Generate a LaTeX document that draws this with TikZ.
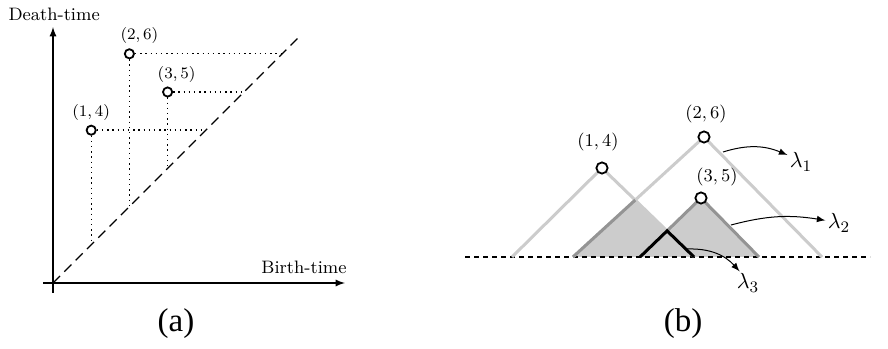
\documentclass[tikz,border=0pt]{standalone}
\usepackage{fontspec}
\newfontfamily\capfont{Liberation Serif}
\usetikzlibrary{arrows,positioning}
\definecolor{tentlight}{gray}{0.80}
\definecolor{tentdark}{gray}{0.58}
\definecolor{tentfill}{gray}{0.80}

\begin{document}
\begin{tikzpicture}[x=0.5pt, y=0.5pt,
    dot/.style={circle, draw, line width=0.9pt, fill=white, inner sep=0pt, minimum size=4.6pt},
    bigdot/.style={dot, minimum size=5.6pt},
    ptlabel/.style={font=\fontsize{8}{9}\selectfont, inner sep=1pt},
    bglabel/.style={font=\fontsize{9.5}{11}\selectfont, inner sep=1pt},
    lamlabel/.style={font=\fontsize{11}{13}\selectfont, inner sep=1pt},
    axlabel/.style={font=\fontsize{9}{11}\selectfont, inner sep=0pt},
    dots/.style={line width=0.7pt, dash pattern=on 0.7pt off 1.9pt},
    tent/.style={line width=1.5pt, tentlight},
    tentedge/.style={line width=1.5pt, tentdark},
    capt/.style={font=\capfont\fontsize{16.5}{19}\selectfont, inner sep=0pt}]
    \useasboundingbox (0,0) rectangle (888,348);

    % (a) persistence diagram
    \begin{scope}[xshift=26.5pt, yshift=32.5pt, x=19.1pt, y=19.1pt]
        \draw[-latex, line width=0.6pt] (-0.26,0) -- (7.64,0);
        \draw[-latex, line width=0.6pt] (0,-0.26) -- (0,6.7);
        \node[axlabel] (dtime) at (0.03,7.02) {Death-time};
        \node[axlabel] (btime) at (6.57,0.42) {Birth-time};
        \draw[line width=0.6pt, dash pattern=on 5pt off 3pt] (0,0) -- (6.4,6.4);
        \coordinate (d1) at (1,1);
        \coordinate (d2) at (2,2);
        \coordinate (d3) at (3,3);
        \coordinate (d4) at (4,4);
        \coordinate (d5) at (5,5);
        \coordinate (d6) at (6,6);
        \node[dot] (p14) at (1,4) {};
        \node[dot] (p26) at (2,6) {};
        \node[dot] (p35) at (3,5) {};
        \draw[dots] (p14) -- (d1);
        \draw[dots] (p14) -- (d4);
        \draw[dots] (p26) -- (d2);
        \draw[dots] (p26) -- (d6);
        \draw[dots] (p35) -- (d3);
        \draw[dots] (p35) -- (d5);
        \node[ptlabel, above=1pt of p14] (l14) {$(1,4)$};
        \node[ptlabel, above=1pt of p26, xshift=5pt] (l26) {$(2,6)$};
        \node[ptlabel, above=1pt of p35, xshift=4.5pt] (l35) {$(3,5)$};
    \end{scope}
    \node[capt] (capa) at (176,24) {(a)};

    % (b) persistence landscape
    \coordinate (a14) at (512,91);
    \coordinate (t14) at (602,180);
    \coordinate (b14) at (694,91);
    \coordinate (a26) at (573,91);
    \coordinate (t26) at (704,211);
    \coordinate (b26) at (822,91);
    \coordinate (a35) at (640,91);
    \coordinate (t35) at (701,150);
    \coordinate (b35) at (759,91);
    \coordinate (x1) at (intersection of t14--b14 and a26--t26);
    \coordinate (x2) at (intersection of t14--b14 and a35--t35);
    \fill[tentfill] (a26) -- (x1) -- (x2) -- (t35) -- (b35) -- cycle;
    \draw[line width=0.6pt, dash pattern=on 2.5pt off 2pt] (465,91) -- (870,91);
    \draw[tent] (a14) -- (t14) -- (b14);
    \draw[tent] (a26) -- (t26) -- (b26);
    \draw[tentedge] (a26) -- (x1);
    \draw[tentedge] (x2) -- (t35) -- (b35);
    \draw[line width=1.5pt] (a35) -- (x2) -- (b14);
    \node[bigdot] (c14) at (t14) {};
    \node[bigdot] (c26) at (t26) {};
    \node[bigdot] (c35) at (t35) {};
    \node[bglabel, above=4pt of c14, xshift=-2pt] (m14) {$(1,4)$};
    \node[bglabel, above=2.5pt of c26, xshift=1pt] (m26) {$(2,6)$};
    \node[bglabel, above=1.5pt of c35, xshift=8pt] (m35) {$(3,5)$};
    \node[lamlabel] (lam1) at (801,186) {$\lambda_1$};
    \node[lamlabel] (lam2) at (839,125) {$\lambda_2$};
    \node[lamlabel] (lam3) at (748,65) {$\lambda_3$};
    \coordinate (s1) at (723,196);
    \coordinate (s2) at (731,123);
    \coordinate (s3) at (687,99);
    \draw[-latex, line width=0.5pt] (s1) to[bend left=20] (lam1);
    \draw[-latex, line width=0.5pt] (s2) to[bend left=12] (lam2);
    \draw[-latex, line width=0.5pt] (s3) to[bend left=25] (lam3);
    \node[capt] (capb) at (683,24) {(b)};
\end{tikzpicture}
\end{document}
